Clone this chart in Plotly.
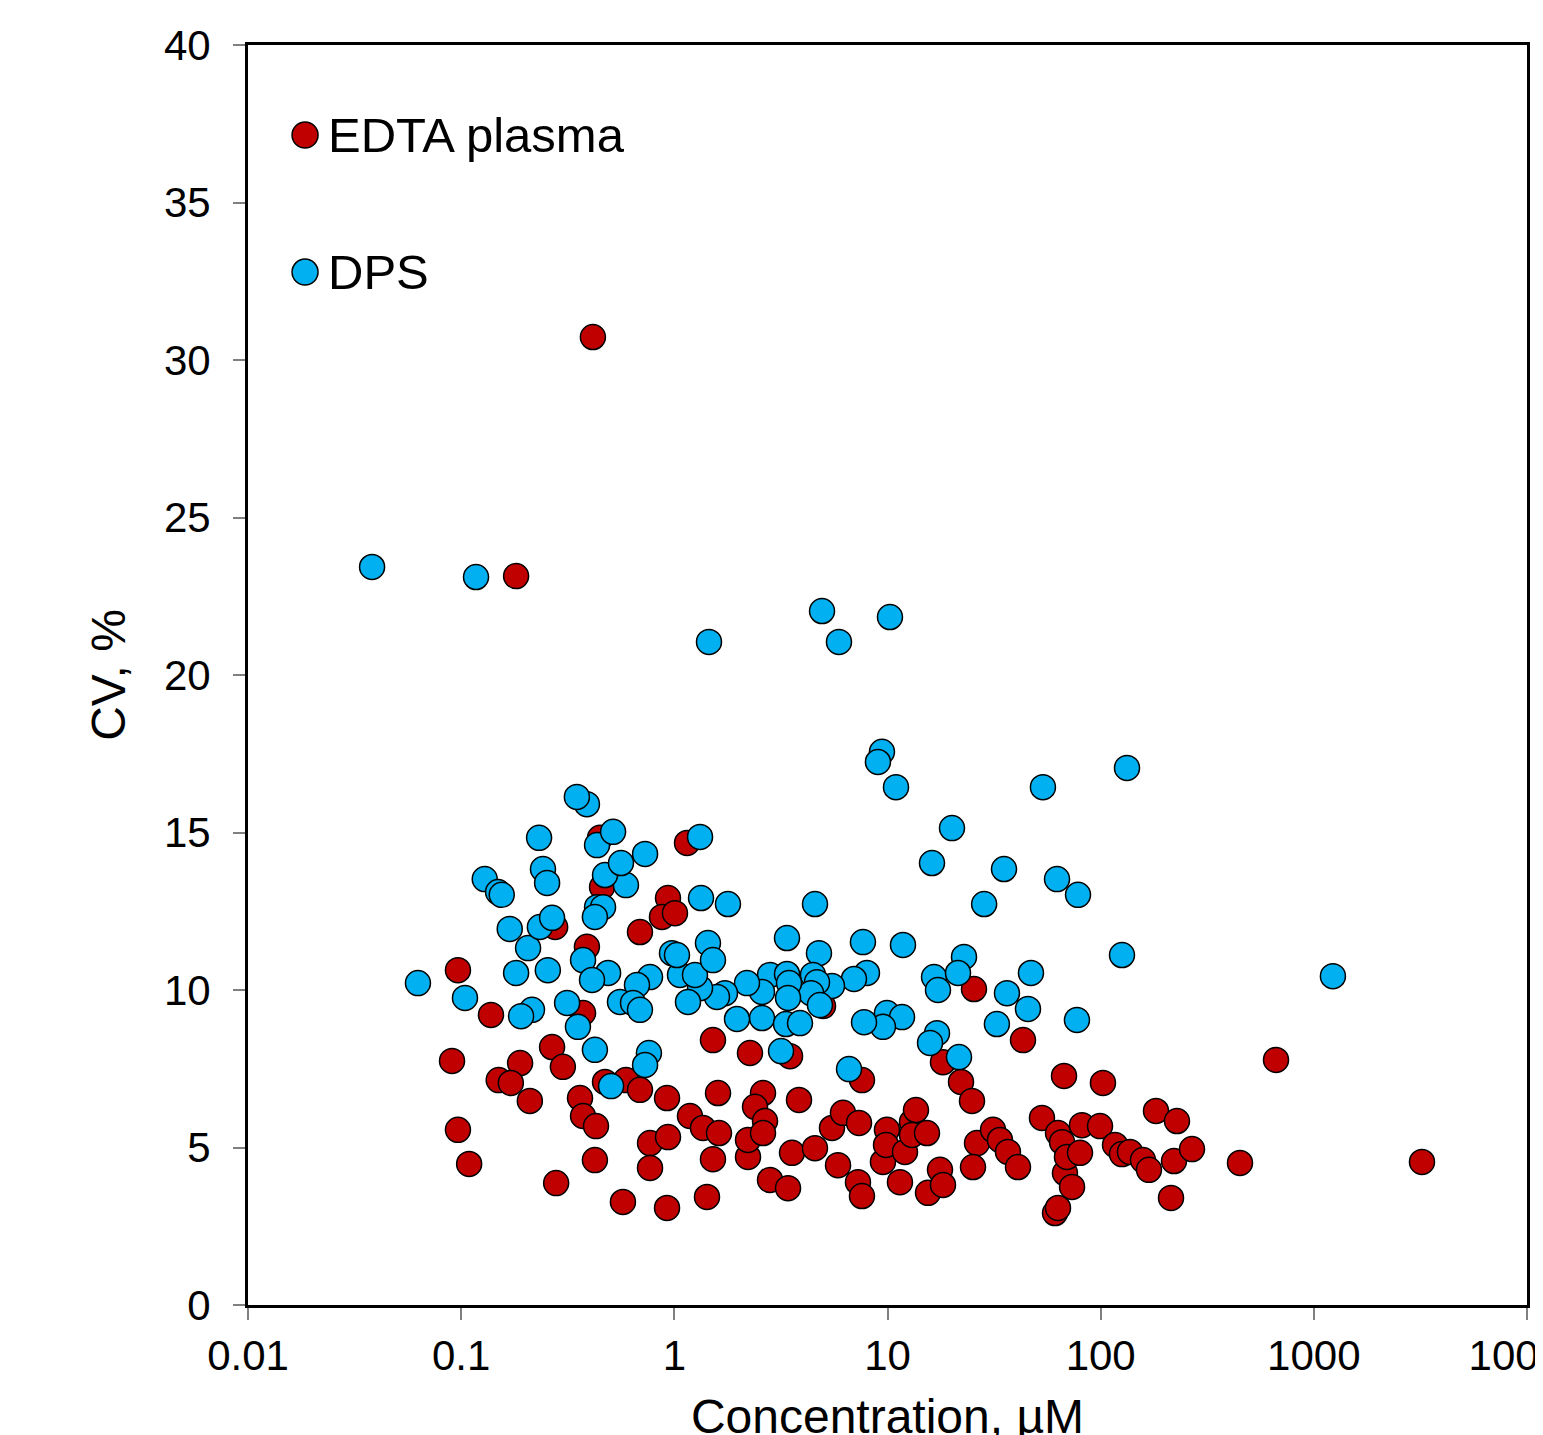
import plotly.graph_objects as go

# ---- Data (concentration in µM, CV in %) ----
edta_conc = [0.415, 0.181, 1.147, 0.448, 0.458, 0.276, 0.389, 0.690, 0.934, 0.875,
             1.007, 0.0966, 0.138, 0.373, 0.0906, 0.189, 0.267, 0.300, 0.150, 0.171,
             0.210, 0.0966, 0.109, 0.279, 0.361, 0.373, 0.429, 0.473, 0.424, 0.574,
             0.593, 0.690, 0.924, 0.769, 0.769, 0.934, 0.924, 1.184, 1.363, 1.620,
             1.518, 1.423, 1.603, 1.518, 2.264, 2.216, 2.216, 2.606, 2.390, 2.663,
             2.606, 2.811, 3.415, 3.49, 3.565, 3.845, 4.568, 4.983, 5.49, 5.86,
             6.18, 7.27, 7.59, 7.35, 7.59, 9.52, 9.94, 9.84, 11.44, 12.08,
             13.03, 13.6, 13.03, 15.32, 15.49, 17.63, 18.21, 18.21, 22.12, 24.91,
             25.45, 26.29, 25.18, 31.26, 33.7, 36.74, 40.94, 43.21, 53.05, 61.06,
             63.07, 63.07, 67.3, 68.0, 65.9, 69.5, 73.4, 81.7, 80.0, 102.5,
             99.3, 116.8, 125.9, 137.2, 157.9, 168.5, 181.8, 228.0, 220.8, 268.2,
             213.8, 450.4, 664.6, 3216.0]
edta_cv = [30.73, 23.14, 14.67, 14.83, 13.27, 12.0, 11.37, 11.84, 12.92, 12.32,
           12.44, 10.63, 9.21, 9.27, 7.75, 7.68, 8.19, 7.56, 7.14, 7.05,
           6.48, 5.56, 4.48, 3.87, 6.57, 6.0, 5.68, 7.08, 4.6, 3.27,
           7.14, 6.83, 6.57, 5.14, 4.35, 5.33, 3.08, 6.0, 5.62, 5.46,
           4.63, 3.43, 6.73, 8.41, 8.0, 4.7, 5.24, 6.73, 6.29, 5.84,
           5.46, 3.97, 3.71, 7.9, 4.83, 6.51, 4.98, 9.49, 5.62, 4.44,
           6.1, 3.9, 3.46, 5.78, 7.14, 4.54, 5.56, 5.08, 3.9, 4.86,
           5.81, 6.19, 5.4, 5.46, 3.56, 4.29, 3.81, 7.71, 7.08, 6.48,
           10.03, 5.14, 4.38, 5.56, 5.24, 4.86, 4.38, 8.41, 5.94, 2.92,
           3.08, 5.46, 7.27, 4.19, 5.17, 4.7, 3.75, 5.71, 4.83, 7.05,
           5.68, 5.08, 4.79, 4.86, 4.6, 4.29, 6.16, 5.84, 4.57, 4.95,
           3.4, 4.51, 7.78, 4.54]

dps_conc = [0.0382, 0.1174, 1.454, 4.93, 5.92, 10.27, 9.42, 9.02, 10.96, 132.9,
            53.6, 20.07, 16.17, 35.2, 62.4, 78.3, 28.4, 125.9, 1229.0, 11.82,
            22.85, 16.53, 21.42, 17.25, 47.1, 36.35, 45.6, 77.4, 32.6, 9.94,
            11.7, 9.52, 7.76, 17.07, 15.83, 21.65, 6.6, 3.166, 7.67, 8.01,
            6.96, 5.49, 4.57, 3.377, 4.77, 4.47, 4.67, 4.38, 4.82, 2.811,
            3.377, 3.452, 3.415, 2.578, 2.192, 2.578, 1.968, 3.341, 3.886, 1.728,
            1.585, 1.320, 1.159, 1.063, 1.250, 0.975, 1.029, 1.438, 1.518, 1.334,
            1.785, 1.320, 0.769, 0.668, 0.556, 0.640, 0.690, 0.760, 0.729, 0.505,
            0.424, 0.353, 0.314, 0.215, 0.191, 0.1042, 0.0627, 0.181, 0.255, 0.373,
            0.489, 0.411, 0.206, 0.169, 0.234, 0.267, 0.434, 0.463, 0.424, 0.593,
            0.473, 0.562, 0.729, 0.434, 0.516, 0.389, 0.349, 0.232, 0.242, 0.253,
            0.129, 0.149, 0.155]
dps_cv = [23.43, 23.11, 21.05, 22.03, 21.05, 21.84, 17.56, 17.24, 16.44, 17.05,
          16.44, 15.14, 14.03, 13.84, 13.52, 13.02, 12.73, 11.11, 10.44, 11.43,
          11.05, 10.41, 10.54, 10.0, 10.54, 9.9, 9.4, 9.05, 8.92, 9.27,
          9.14, 8.83, 8.98, 8.63, 8.32, 7.87, 7.49, 8.06, 11.52, 10.54,
          10.35, 10.13, 12.73, 11.65, 11.17, 10.48, 10.25, 9.9, 9.52, 10.48,
          10.51, 10.22, 9.75, 9.94, 10.22, 9.11, 9.08, 8.92, 8.95, 9.9,
          9.78, 10.06, 9.62, 10.48, 10.48, 11.17, 11.11, 11.49, 10.95, 12.92,
          12.73, 14.86, 10.41, 10.16, 9.62, 9.59, 9.37, 8.0, 7.62, 6.95,
          8.1, 8.83, 9.59, 9.37, 9.17, 9.75, 10.22, 10.54, 10.63, 10.95,
          10.54, 10.32, 11.33, 11.94, 12.0, 12.29, 12.63, 12.63, 12.32, 13.33,
          13.65, 14.03, 14.32, 14.6, 15.02, 15.9, 16.13, 14.83, 13.84, 13.4,
          13.52, 13.11, 13.02]

series_names = ["EDTA plasma", "DPS"]
series_colors = ["#C00000", "#00B0F0"]

x_tickvals = [0.01, 0.1, 1, 10, 100, 1000, 10000]
x_ticktext = ["0.01", "0.1", "1", "10", "100", "1000", "10000"]
y_tickvals = [0, 5, 10, 15, 20, 25, 30, 35, 40]

FONT = "Liberation Sans, Arial, sans-serif"

fig = go.Figure()
for name, xs, ys, col in [(series_names[0], edta_conc, edta_cv, series_colors[0]),
                          (series_names[1], dps_conc, dps_cv, series_colors[1])]:
    fig.add_trace(go.Scatter(
        x=xs, y=ys, mode="markers", name=name, showlegend=False,
        marker=dict(size=25, color=col, line=dict(color="black", width=1.5)),
    ))

# legend drawn manually (markers as large as the data markers)
legend_y = [0.9286, 0.8198]
for name, col, ly in zip(series_names, series_colors, legend_y):
    fig.add_shape(type="circle", xref="paper", yref="paper",
                  xsizemode="pixel", ysizemode="pixel",
                  xanchor=0.0446, yanchor=ly,
                  x0=-13, x1=13, y0=-13, y1=13,
                  fillcolor=col, line=dict(color="black", width=1.5))
    fig.add_annotation(x=0.0610, y=ly, xref="paper", yref="paper",
                       text=name, showarrow=False, xanchor="left", yanchor="middle",
                       font=dict(family=FONT, size=49, color="black"))

fig.update_xaxes(
    type="log", range=[-2, 4],
    tickvals=x_tickvals, ticktext=x_ticktext,
    ticks="outside", ticklen=12, tickcolor="#808080", tickwidth=1.5,
    showline=True, linecolor="black", linewidth=3, mirror=True,
    showgrid=False, zeroline=False,
    tickfont=dict(family=FONT, size=42, color="black"),
    ticklabelstandoff=0, ticklabeloverflow="allow",
    title=dict(text="Concentration, µM", font=dict(family=FONT, size=48, color="black"), standoff=32),
)
fig.update_yaxes(
    range=[0, 40], tickvals=y_tickvals,
    ticks="outside", ticklen=12, tickcolor="#808080", tickwidth=1.5,
    showline=True, linecolor="black", linewidth=3, mirror=True,
    showgrid=False, zeroline=False,
    tickfont=dict(family=FONT, size=42, color="black"),
    ticklabelstandoff=14,
    title=dict(text="CV, %", font=dict(family=FONT, size=48, color="black"), standoff=24),
)
fig.update_layout(
    width=1543, height=1435,
    margin=dict(l=240, r=24, t=37, b=138, autoexpand=False),
    plot_bgcolor="white", paper_bgcolor="white",
    font=dict(family=FONT, color="black"),
)
fig.write_html("out.html")
